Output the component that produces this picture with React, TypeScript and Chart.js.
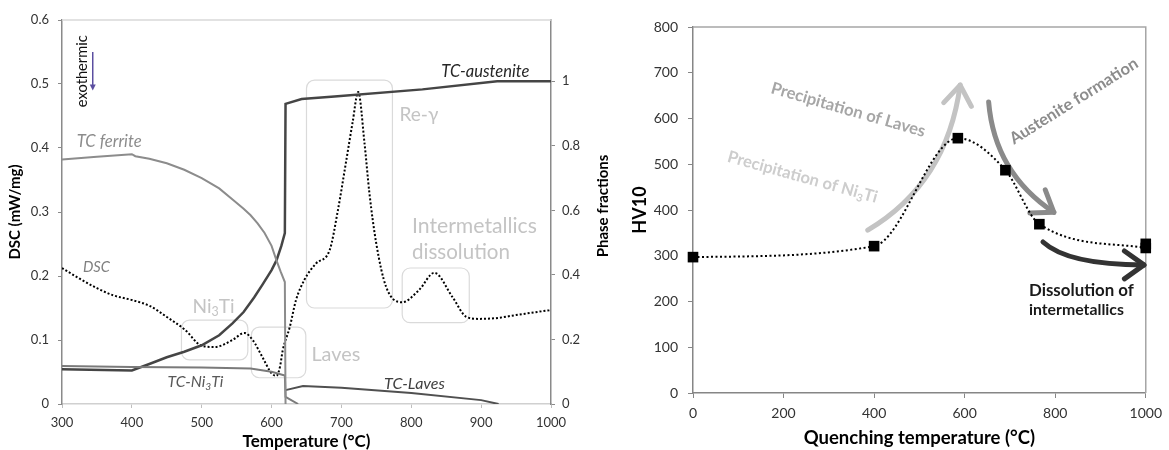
import React, { useEffect, useRef } from "react";
import { Chart, registerables } from "chart.js";
Chart.register(...registerables);

const FONT = "Lato, 'Open Sans', 'DejaVu Sans', sans-serif";

// ---------- Left chart data (DSC + phase fractions) ----------
const tempTicks = [300, 400, 500, 600, 700, 800, 900, 1000];
const dscTicks = [0, 0.1, 0.2, 0.3, 0.4, 0.5, 0.6];
const phaseTicks = [0, 0.2, 0.4, 0.6, 0.8, 1];

const ferriteT = [300, 350, 400, 405, 425, 450, 475, 500, 525, 545, 560, 570, 580, 590, 600, 607, 613, 619, 620];
const ferriteF = [0.758, 0.766, 0.774, 0.768, 0.76, 0.746, 0.726, 0.7, 0.668, 0.632, 0.605, 0.585, 0.56, 0.53, 0.49, 0.445, 0.41, 0.378, 0];

const austeniteT = [300, 400, 425, 450, 475, 500, 525, 544, 560, 575, 587, 600, 607, 614, 619, 620, 643, 690, 816, 923, 1000];
const austeniteF = [0.108, 0.104, 0.124, 0.145, 0.162, 0.182, 0.213, 0.25, 0.285, 0.33, 0.37, 0.415, 0.445, 0.49, 0.53, 0.93, 0.945, 0.953, 0.975, 1.0, 1.0];

const ni3tiT = [300, 400, 500, 570, 600, 619, 620, 638];
const ni3tiF = [0.118, 0.115, 0.113, 0.11, 0.1, 0.088, 0.022, 0];

const lavesT = [620, 645, 700, 800, 900, 925];
const lavesF = [0.043, 0.056, 0.05, 0.034, 0.012, 0];

const dscT = [300, 325, 350, 373, 400, 426, 450, 476, 500, 519, 544, 561, 573, 587, 600, 607, 612, 616, 626, 635, 647, 664, 683, 695, 707, 716, 724, 733, 740, 750, 764, 787, 811, 833, 859, 879, 897, 920, 950, 975, 1000];
const dscV = [0.2125, 0.196, 0.181, 0.17, 0.1625, 0.153, 0.136, 0.116, 0.091, 0.089, 0.1, 0.111, 0.1, 0.073, 0.048, 0.044, 0.058, 0.084, 0.12, 0.1625, 0.194, 0.22, 0.24, 0.303, 0.381, 0.44, 0.4875, 0.408, 0.33, 0.25, 0.183, 0.159, 0.178, 0.205, 0.167, 0.136, 0.133, 0.134, 0.139, 0.143, 0.147];

// annotation boxes (temperature / DSC units)
const boxX0 = [471, 571, 650, 787];
const boxX1 = [566, 649, 773, 883];
const boxY0 = [0.069, 0.041, 0.15, 0.127];
const boxY1 = [0.131, 0.12, 0.506, 0.2125];

// ---------- Right chart data (hardness) ----------
const quenchTicks = [0, 200, 400, 600, 800, 1000];
const hvTicks = [0, 100, 200, 300, 400, 500, 600, 700, 800];
const quenchT = [0, 400, 585, 690, 765, 1000];
const hv10 = [297, 321, 557, 487, 369, 317];
const extraT = [1000];
const extraHv = [326];

type Lbl = {
  text: string; x: number; y: number; size: number; width?: number; color: string;
  align?: "left" | "center"; italic?: boolean; bold?: boolean; angle?: number;
};

const leftLabels: Lbl[] = [
  { text: "Ni_3Ti", x: 517, y: 0.152, size: 21, width: 42, color: "#c4c4c4", align: "center" },
  { text: "Laves", x: 657, y: 0.077, size: 19, width: 49, color: "#c4c4c4" },
  { text: "Re-γ", x: 783, y: 0.452, size: 19, width: 39, color: "#c4c4c4" },
  { text: "Intermetallics", x: 801, y: 0.278, size: 19, width: 125, color: "#c4c4c4" },
  { text: "dissolution", x: 801, y: 0.2375, size: 19, width: 98, color: "#c4c4c4" },
  { text: "TC ferrite", x: 321, y: 0.41, size: 15, width: 65, color: "#8c8c8c", italic: true },
  { text: "DSC", x: 330, y: 0.214, size: 15, width: 27, color: "#7f7f7f", italic: true },
  { text: "TC-Ni_3Ti", x: 451, y: 0.034, size: 15, width: 56, color: "#595959", italic: true },
  { text: "TC-austenite", x: 843, y: 0.52, size: 15, width: 88, color: "#262626", italic: true },
  { text: "TC-Laves", x: 761, y: 0.031, size: 15, width: 61, color: "#404040", italic: true },
  { text: "exothermic", x: 328.6, y: 0.52, size: 13, width: 72, color: "#111", angle: -90, align: "center" },
];

const rightLabels: Lbl[] = [
  { text: "Precipitation of Laves", x: 343, y: 619, size: 15, width: 160, color: "#a6a6a6", bold: true, angle: 16, align: "center" },
  { text: "Precipitation of Ni_3Ti", x: 242, y: 472, size: 15, width: 155, color: "#cdcdcd", bold: true, angle: 15.5, align: "center" },
  { text: "Austenite formation", x: 841, y: 638, size: 15, width: 148, color: "#8c8c8c", bold: true, angle: -32, align: "center" },
  { text: "Dissolution of", x: 742, y: 225, size: 15, width: 105, color: "#1a1a1a", bold: true },
  { text: "intermetallics", x: 742, y: 181, size: 15, width: 95, color: "#1a1a1a", bold: true },
];

// curved arrows: start, control, end (quench temperature / HV units)
const arrowP0 = [[386, 356], [653, 636], [773, 330]];
const arrowC = [[561, 459], [666, 481], [828, 280]];
const arrowP2 = [[590, 673], [797, 395], [996, 280]];
const arrowColors = ["#c3c3c3", "#8a8a8a", "#333333"];

const zip = (xs: number[], ys: number[]) => xs.map((x, i) => ({ x, y: ys[i] }));
const fontStr = (size: number, weight = "normal", style = "normal") => `${style} ${weight} ${size}px ${FONT}`;

function parseRich(s: string) {
  const out: { t: string; sub: boolean }[] = [];
  const re = /_(\d+)/g;
  let last = 0;
  let m: RegExpExecArray | null;
  while ((m = re.exec(s))) {
    if (m.index > last) out.push({ t: s.slice(last, m.index), sub: false });
    out.push({ t: m[1], sub: true });
    last = m.index + m[0].length;
  }
  if (last < s.length) out.push({ t: s.slice(last), sub: false });
  return out;
}

function drawRich(ctx: CanvasRenderingContext2D, l: Lbl, px: number, py: number) {
  const segs = parseRich(l.text);
  const style = l.italic ? "italic" : "normal";
  const weight = l.bold ? "bold" : "normal";
  const measure = (sz: number) => {
    let w = 0;
    for (const s of segs) {
      ctx.font = fontStr(s.sub ? sz * 0.65 : sz, weight, style);
      w += ctx.measureText(s.t).width;
    }
    return w;
  };
  let size = l.size;
  let w = measure(size);
  if (l.width) {
    size = (size * l.width) / w;
    w = measure(size);
  }
  ctx.save();
  ctx.translate(px, py);
  if (l.angle) ctx.rotate((l.angle * Math.PI) / 180);
  ctx.fillStyle = l.color;
  ctx.textBaseline = "middle";
  ctx.textAlign = "left";
  let cx = l.align === "center" ? -w / 2 : 0;
  for (const s of segs) {
    const sz = s.sub ? size * 0.65 : size;
    ctx.font = fontStr(sz, weight, style);
    ctx.fillText(s.t, cx, s.sub ? size * 0.3 : 0);
    cx += ctx.measureText(s.t).width;
  }
  ctx.restore();
}

function roundRect(ctx: CanvasRenderingContext2D, x0: number, y0: number, x1: number, y1: number, r: number) {
  const x = Math.min(x0, x1), y = Math.min(y0, y1), w = Math.abs(x1 - x0), h = Math.abs(y1 - y0);
  ctx.beginPath();
  ctx.moveTo(x + r, y);
  ctx.arcTo(x + w, y, x + w, y + h, r);
  ctx.arcTo(x + w, y + h, x, y + h, r);
  ctx.arcTo(x, y + h, x, y, r);
  ctx.arcTo(x, y, x + w, y, r);
  ctx.closePath();
  ctx.stroke();
}

const leftPlugin = {
  id: "leftAnno",
  beforeDatasetsDraw(chart: any) {
    const { ctx, chartArea, scales } = chart;
    const x = scales.x, y = scales.y;
    ctx.save();
    ctx.strokeStyle = "#d9d9d9";
    ctx.lineWidth = 1.5;
    ctx.beginPath();
    ctx.moveTo(chartArea.left, chartArea.top);
    ctx.lineTo(chartArea.right, chartArea.top);
    ctx.stroke();
    ctx.strokeStyle = "#dadada";
    ctx.lineWidth = 1.2;
    for (let i = 0; i < boxX0.length; i++) {
      roundRect(ctx, x.getPixelForValue(boxX0[i]), y.getPixelForValue(boxY0[i]), x.getPixelForValue(boxX1[i]), y.getPixelForValue(boxY1[i]), 8);
    }
    ctx.restore();
  },
  afterDatasetsDraw(chart: any) {
    const { ctx, chartArea, scales } = chart;
    const x = scales.x, y = scales.y;
    for (const l of leftLabels) drawRich(ctx, l, x.getPixelForValue(l.x), y.getPixelForValue(l.y));
    // exothermic arrow
    const ax = x.getPixelForValue(344);
    const ay0 = y.getPixelForValue(0.55);
    const ay1 = y.getPixelForValue(0.49);
    ctx.save();
    ctx.strokeStyle = "#5b4ea0";
    ctx.fillStyle = "#5b4ea0";
    ctx.lineWidth = 1.5;
    ctx.beginPath();
    ctx.moveTo(ax, ay0);
    ctx.lineTo(ax, ay1 - 5);
    ctx.stroke();
    ctx.beginPath();
    ctx.moveTo(ax - 3, ay1 - 6);
    ctx.lineTo(ax + 3, ay1 - 6);
    ctx.lineTo(ax, ay1);
    ctx.closePath();
    ctx.fill();
    ctx.restore();
    // right axis title, reading bottom to top
    ctx.save();
    ctx.translate(scales.y1.right - 17, (chartArea.top + chartArea.bottom) / 2 - 6);
    ctx.rotate(-Math.PI / 2);
    ctx.font = fontStr(15, "bold");
    ctx.fillStyle = "#000";
    ctx.textAlign = "center";
    ctx.textBaseline = "middle";
    ctx.fillText("Phase fractions", 0, 0);
    ctx.restore();
  },
};

function drawArrow(ctx: CanvasRenderingContext2D, p0: number[], c: number[], p2: number[], color: string) {
  ctx.save();
  ctx.strokeStyle = color;
  ctx.lineWidth = 5;
  ctx.lineCap = "round";
  ctx.lineJoin = "round";
  ctx.beginPath();
  ctx.moveTo(p0[0], p0[1]);
  ctx.quadraticCurveTo(c[0], c[1], p2[0], p2[1]);
  ctx.stroke();
  const ang = Math.atan2(p2[1] - c[1], p2[0] - c[0]);
  const a = 0.62, head = 24;
  ctx.beginPath();
  ctx.moveTo(p2[0] - head * Math.cos(ang - a), p2[1] - head * Math.sin(ang - a));
  ctx.lineTo(p2[0], p2[1]);
  ctx.lineTo(p2[0] - head * Math.cos(ang + a), p2[1] - head * Math.sin(ang + a));
  ctx.stroke();
  ctx.restore();
}

const rightPlugin = {
  id: "rightAnno",
  beforeDatasetsDraw(chart: any) {
    const { ctx, chartArea, scales } = chart;
    const x = scales.x, y = scales.y;
    ctx.save();
    ctx.strokeStyle = "#a6a6a6";
    ctx.lineWidth = 1.5;
    ctx.beginPath();
    ctx.moveTo(chartArea.left, chartArea.top);
    ctx.lineTo(chartArea.right, chartArea.top);
    ctx.lineTo(chartArea.right, chartArea.bottom);
    ctx.stroke();
    ctx.restore();
    const P = (p: number[]) => [x.getPixelForValue(p[0]), y.getPixelForValue(p[1])];
    for (let i = 0; i < arrowP0.length; i++) drawArrow(ctx, P(arrowP0[i]), P(arrowC[i]), P(arrowP2[i]), arrowColors[i]);
    for (const l of rightLabels) drawRich(ctx, l, x.getPixelForValue(l.x), y.getPixelForValue(l.y));
  },
};

const fixedTicks = (vals: number[]) => (s: any) => {
  s.ticks = vals.map((v) => ({ value: v }));
};
const plain = (v: number) => String(v);

function leftConfig(): any {
  return {
    type: "line",
    data: {
      datasets: [
        { label: "TC ferrite", data: zip(ferriteT, ferriteF), yAxisID: "y1", borderColor: "#8c8c8c", borderWidth: 2, pointRadius: 0, tension: 0 },
        { label: "TC-Ni3Ti", data: zip(ni3tiT, ni3tiF), yAxisID: "y1", borderColor: "#7a7a7a", borderWidth: 2, pointRadius: 0, tension: 0 },
        { label: "TC-Laves", data: zip(lavesT, lavesF), yAxisID: "y1", borderColor: "#505050", borderWidth: 2, pointRadius: 0, tension: 0 },
        { label: "TC-austenite", data: zip(austeniteT, austeniteF), yAxisID: "y1", borderColor: "#454545", borderWidth: 2.5, pointRadius: 0, tension: 0 },
        { label: "DSC", data: zip(dscT, dscV), yAxisID: "y", borderColor: "#000", borderWidth: 2, borderDash: [2, 2], pointRadius: 0, cubicInterpolationMode: "monotone" },
      ],
    },
    options: {
      animation: false,
      responsive: false,
      layout: { padding: { top: 20, left: 0, right: 0, bottom: 0 } },
      plugins: { legend: { display: false }, tooltip: { enabled: false } },
      scales: {
        x: {
          type: "linear", min: 300, max: 1000,
          afterBuildTicks: fixedTicks(tempTicks),
          ticks: { color: "#333", font: { size: 13 }, padding: 7, maxRotation: 0, callback: plain },
          grid: { drawOnChartArea: false, tickLength: 4, color: "#bfbfbf" },
          border: { color: "#d0d0d0", width: 1.5 },
          title: { display: true, text: "Temperature (°C)", color: "#000", font: { size: 17, weight: "bold", lineHeight: 1 }, padding: 0 },
          afterFit: (s: any) => { s.height = 46; },
        },
        y: {
          position: "left", min: 0, max: 0.6,
          afterBuildTicks: fixedTicks(dscTicks),
          ticks: { color: "#333", font: { size: 13 }, padding: 9, callback: (v: number) => (v === 0 ? "0" : v.toFixed(1)) },
          grid: { drawOnChartArea: false, tickLength: 4, color: "#8a8a8a" },
          border: { color: "#8a8a8a", width: 1.5 },
          title: { display: true, text: "DSC (mW/mg)", color: "#000", font: { size: 15, weight: "bold" }, padding: { top: 6, bottom: 0 } },
          afterFit: (s: any) => { s.width = 62; },
        },
        y1: {
          position: "right", min: 0, max: 1.19,
          afterBuildTicks: fixedTicks(phaseTicks),
          ticks: { color: "#333", font: { size: 13 }, padding: 7, callback: (v: number) => (v === 0 ? "0" : v === 1 ? "1" : v.toFixed(1)) },
          grid: { drawOnChartArea: false, tickLength: 4, color: "#8a8a8a" },
          border: { color: "#8a8a8a", width: 1.5 },
          afterFit: (s: any) => { s.width = 69; },
        },
      },
    },
    plugins: [leftPlugin],
  };
}

function rightConfig(): any {
  return {
    type: "line",
    data: {
      datasets: [
        {
          label: "HV10", data: zip(quenchT, hv10), borderColor: "#000", borderWidth: 2, borderDash: [2, 2.5], cubicInterpolationMode: "monotone",
          pointStyle: "rect", pointRadius: 7.5, pointBackgroundColor: "#000", pointBorderColor: "#000", pointBorderWidth: 0, clip: false,
        },
        {
          label: "HV10 repeat", data: zip(extraT, extraHv), showLine: false,
          pointStyle: "rect", pointRadius: 7.5, pointBackgroundColor: "#000", pointBorderColor: "#000", pointBorderWidth: 0, clip: false,
        },
      ],
    },
    options: {
      animation: false,
      responsive: false,
      layout: { padding: { top: 27, left: 0, right: 18, bottom: 0 } },
      plugins: { legend: { display: false }, tooltip: { enabled: false } },
      scales: {
        x: {
          type: "linear", min: 0, max: 1000,
          afterBuildTicks: fixedTicks(quenchTicks),
          ticks: { color: "#333", font: { size: 14 }, padding: 7, maxRotation: 0, callback: plain },
          grid: { drawOnChartArea: false, tickLength: 5, color: "#868686" },
          border: { color: "#868686", width: 1.5 },
          title: { display: true, text: "Quenching temperature (°C)", color: "#000", font: { size: 18.5, weight: "bold" }, padding: { top: 0, bottom: 1 } },
          afterFit: (s: any) => { s.height = 57; },
        },
        y: {
          min: 0, max: 800,
          afterBuildTicks: fixedTicks(hvTicks),
          ticks: { color: "#333", font: { size: 14 }, padding: 10, callback: plain },
          grid: { drawOnChartArea: false, tickLength: 5, color: "#868686" },
          border: { color: "#868686", width: 1.5 },
          title: { display: true, text: "HV10", color: "#000", font: { size: 18, weight: "bold" }, padding: { top: 9, bottom: 0 } },
          afterFit: (s: any) => { s.width = 73; },
        },
      },
    },
    plugins: [rightPlugin],
  };
}

export default function App() {
  const leftRef = useRef<HTMLCanvasElement>(null);
  const rightRef = useRef<HTMLCanvasElement>(null);
  useEffect(() => {
    Chart.defaults.font.family = FONT;
    const c1 = new Chart(leftRef.current as HTMLCanvasElement, leftConfig());
    const c2 = new Chart(rightRef.current as HTMLCanvasElement, rightConfig());
    return () => {
      c1.destroy();
      c2.destroy();
    };
  }, []);
  return (
    <div style={{ position: "absolute", left: 0, top: 0, width: 1169, height: 450, background: "#fff" }}>
      <canvas ref={leftRef} width={620} height={450} style={{ position: "absolute", left: 0, top: 0, width: 620, height: 450 }} />
      <canvas ref={rightRef} width={549} height={450} style={{ position: "absolute", left: 620, top: 0, width: 549, height: 450 }} />
    </div>
  );
}
